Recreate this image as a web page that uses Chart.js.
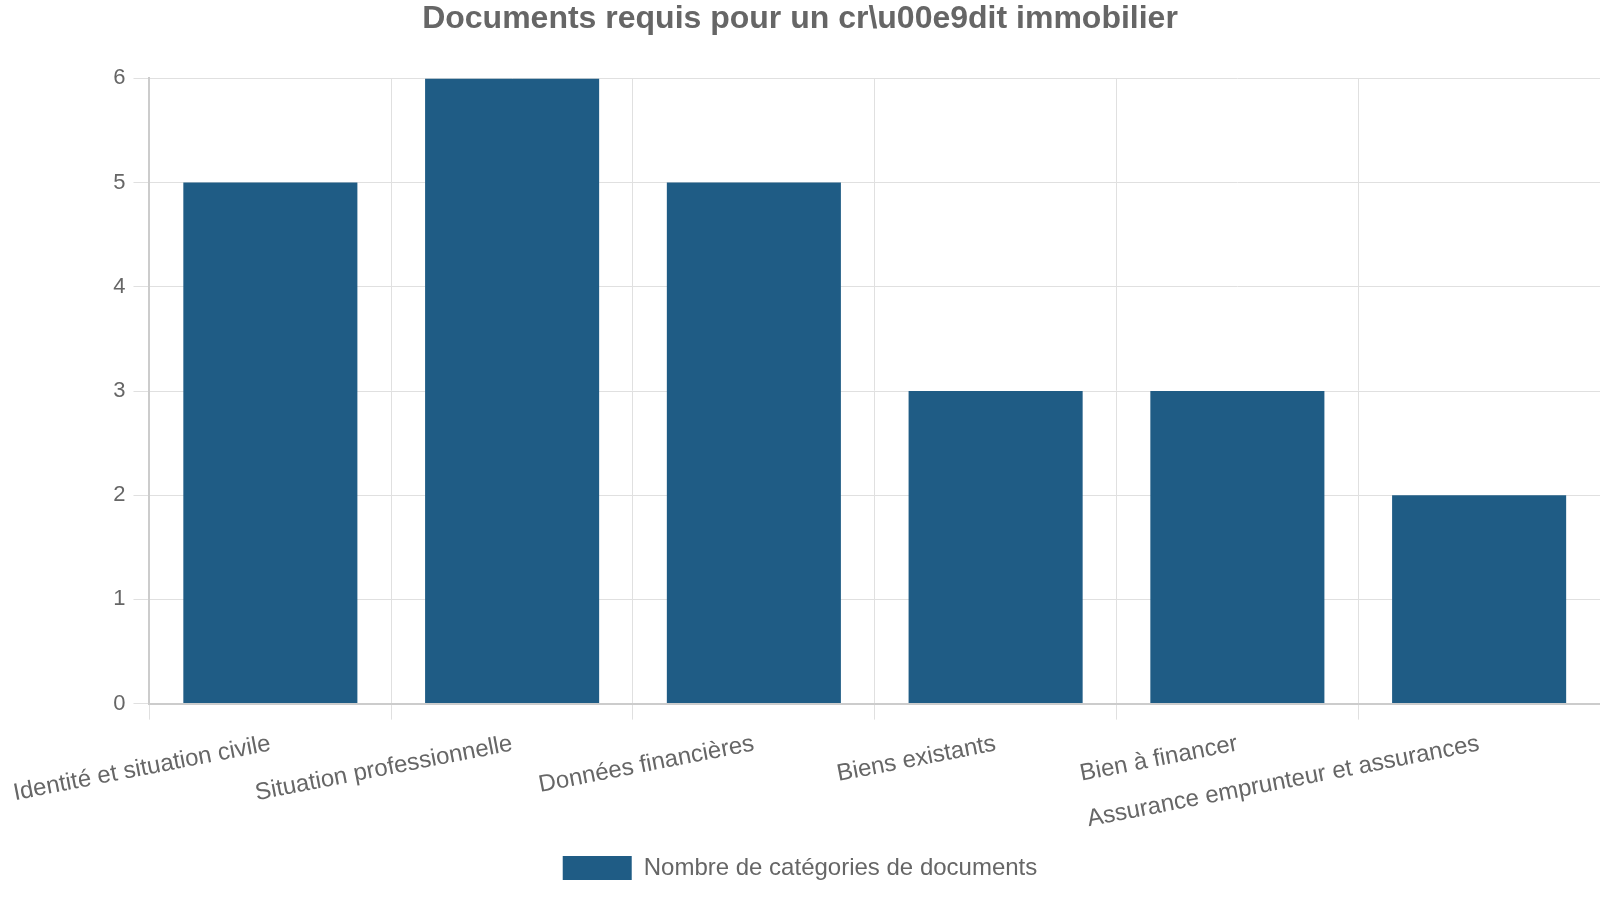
<!DOCTYPE html>
<html>
<head>
<meta charset="utf-8">
<script src="https://cdn.jsdelivr.net/npm/chart.js@4"></script>
<style>
  html, body { margin: 0; padding: 0; background: #fff; }
  #wrap { width: 1600px; height: 900px; }
</style>
</head>
<body>
<div id="wrap"><canvas id="myChart" width="1600" height="900"></canvas></div>
<script>
const categories = [
    'Identité et situation civile',
    'Situation professionnelle',
    'Données financières',
    'Biens existants',
    'Bien à financer',
    'Assurance emprunteur et assurances'
];
const docCounts = [5, 6, 5, 3, 3, 2];
const yTicks = [0, 1, 2, 3, 4, 5, 6];

Chart.defaults.font.family = '"Liberation Sans", Arial, sans-serif';
Chart.defaults.color = '#666';

const ctx = document.getElementById('myChart').getContext('2d');

const myChart = new Chart(ctx, {
    type: 'bar',
    data: {
        labels: categories,
        datasets: [{
            label: 'Nombre de catégories de documents',
            data: docCounts,
            backgroundColor: '#1f5c85',
            borderWidth: 0
        }]
    },
    options: {
        responsive: false,
        animation: false,
        layout: { padding: { left: 0, right: 0, top: 0, bottom: 10 } },
        plugins: {
            title: {
                display: true,
                text: 'Documents requis pour un cr\\u00e9dit immobilier',
                font: { size: 32, weight: 'bold' },
                color: '#666',
                padding: { top: 0, bottom: 40 }
            },
            legend: {
                position: 'bottom',
                labels: {
                    boxWidth: 69,
                    boxHeight: 24,
                    font: { size: 24 },
                    color: '#666',
                    padding: 12
                }
            },
            tooltip: { enabled: false }
        },
        scales: {
            x: {
                grid: { color: '#e0e0e0', tickLength: 16 },
                border: { color: '#ccc', width: 2 },
                ticks: {
                    font: { size: 24 },
                    color: '#666',
                    minRotation: 11,
                    maxRotation: 11,
                    padding: 10,
                    autoSkip: false
                }
            },
            y: {
                min: 0,
                max: 6,
                afterBuildTicks: axis => { axis.ticks = yTicks.map(v => ({ value: v })); },
                grid: { color: '#e0e0e0', tickLength: 16 },
                border: { color: '#ccc', width: 2 },
                ticks: {
                    font: { size: 22 },
                    color: '#666',
                    padding: 8
                }
            }
        }
    }
});
</script>
</body>
</html>
